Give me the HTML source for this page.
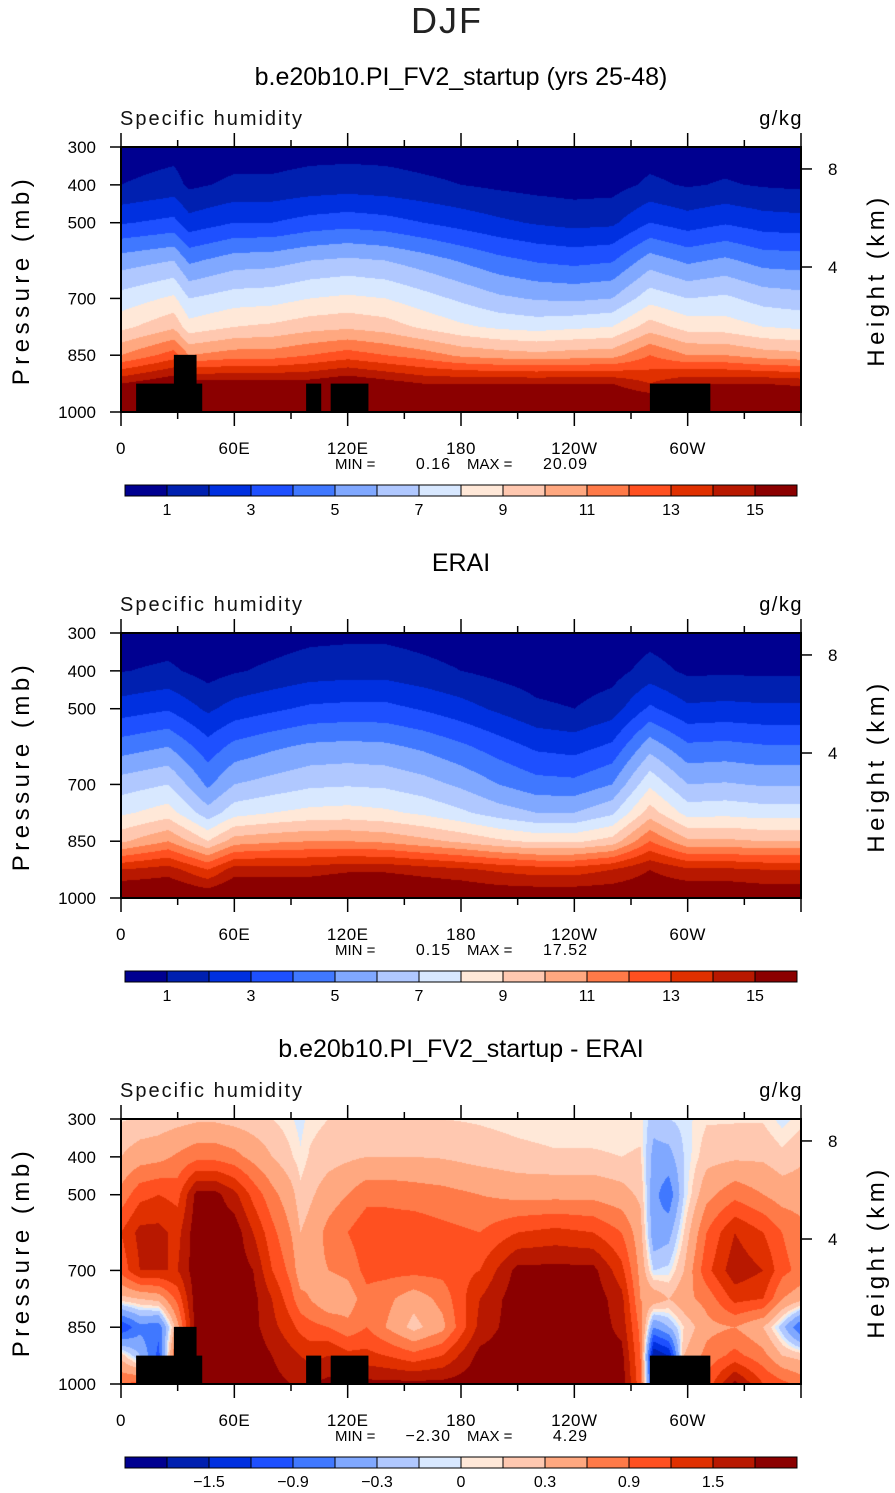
<!DOCTYPE html>
<html><head><meta charset="utf-8">
<style>
body{margin:0;background:#fff;width:895px;height:1493px;position:relative;overflow:hidden;font-family:"Liberation Sans",sans-serif}
canvas{position:absolute}
svg{position:absolute;left:0;top:0}
</style></head>
<body>
<canvas id="c0" width="680" height="265" style="left:121px;top:147px"></canvas>
<canvas id="c1" width="680" height="265" style="left:121px;top:633px"></canvas>
<canvas id="c2" width="680" height="265" style="left:121px;top:1119px"></canvas>
<svg id="ov" width="895" height="1493"></svg>
<script>
// ---- data ----
const COLORS=["#000090","#0020b0","#0030e0","#1e50ff","#4078ff","#80a8ff","#b0c8ff","#d8e8ff","#ffe8d8","#ffc8b0","#ffa880","#ff7a48","#ff5020","#e03000","#b81800","#8b0000"];
const LEVELS_Q=[1,2,3,4,5,6,7,8,9,10,11,12,13,14,15];
const LEVELS_D=[-1.8,-1.5,-1.2,-0.9,-0.6,-0.3,-0.1,0,0.1,0.3,0.6,0.9,1.2,1.5,1.8];
const CB_LABELS_Q=["1","3","5","7","9","11","13","15"];
const CB_LABEL_IDX_Q=[1,3,5,7,9,11,13,15];
const CB_LABELS_D=["\u22121.5","\u22120.9","\u22120.3","0","0.3","0.9","1.5"];
const CB_LABEL_IDX_D=[2,4,6,8,10,12,14];
const PRESS=[300,400,500,600,700,775,850,925,1000];
const P_TICKS=[300,400,500,700,850,1000];
const LON_TICKS=[0,60,120,180,240,300];
const LON_LABELS=["0","60E","120E","180","120W","60W"];
const H_TICK_P=[358,617]; // pressure of 8 km and 4 km
const H_TICK_LABELS=["8","4"];
const LONS1=[0,28,36,60,80,100,120,140,160,180,200,220,240,260,280,300,320,340,360];
const GRID1=[
[0.4,1.0,2.9,5.5,7.4,8.7,11,15,17],
[0.6,1.4,3.3,6.0,8.2,9.8,12.5,16,17.5],
[0.35,0.8,2.4,4.8,7.0,8.4,11,15.5,17],
[0.5,1.2,3.0,5.5,7.5,9.0,11.5,15.5,17],
[0.5,1.2,3.0,5.6,7.6,9.2,11.5,15.5,17],
[0.6,1.4,3.4,6.0,8.0,9.6,12,15.5,17],
[0.6,1.5,3.6,6.2,8.2,9.8,12.5,16,17.5],
[0.6,1.4,3.4,6.0,8.0,9.5,12,15.5,17],
[0.5,1.2,3.0,5.5,7.4,8.8,11.5,15,17],
[0.45,1.0,2.6,4.9,6.8,8.2,10.8,15,17],
[0.35,0.8,2.2,4.3,6.2,7.8,10.5,15,17],
[0.3,0.65,1.9,3.9,5.9,7.6,10.3,15,17],
[0.2,0.55,1.7,3.7,5.8,7.8,10.5,15,17],
[0.2,0.6,1.8,3.9,6.0,8.0,10.6,15,17],
[0.5,1.2,3.0,5.5,7.6,9.5,12,14,17],
[0.35,0.9,2.5,4.8,7.0,8.6,11,15,17],
[0.5,1.1,2.9,5.2,7.2,8.5,11,15,17],
[0.3,0.9,2.5,4.6,6.6,8.0,10.5,15,17],
[0.25,0.8,2.4,4.5,6.4,7.8,10.3,14.8,17]];
const LONS2=[0,25,46,60,80,100,120,140,160,180,200,220,240,260,280,300,320,340,360];
const GRID2=[
[0.35,0.95,2.5,4.5,6.5,7.8,9.8,14,16.5],
[0.45,1.2,2.9,5.0,7.0,8.5,11,14.5,16.5],
[0.2,0.6,1.8,3.4,4.8,6.4,9,13,16],
[0.35,0.9,2.4,4.3,6.0,7.6,10.5,14.5,16.5],
[0.5,1.2,2.8,4.8,6.4,8.0,10.8,14.5,16.5],
[0.7,1.5,3.2,5.2,6.8,8.3,11,14.5,16.5],
[0.75,1.6,3.3,5.3,6.9,8.4,11,14.8,16.8],
[0.75,1.6,3.3,5.2,6.8,8.2,10.8,14.8,16.8],
[0.6,1.3,2.9,4.8,6.4,7.8,10.3,14.5,16.5],
[0.45,1.0,2.4,4.2,5.8,7.2,9.8,14.2,16.3],
[0.3,0.7,1.8,3.5,5.0,6.5,9.2,13.8,16],
[0.2,0.5,1.2,2.8,4.4,6.0,8.8,13.5,16],
[0.15,0.4,1.0,2.6,4.3,6.0,8.8,13.5,16],
[0.25,0.6,1.5,3.2,5.0,6.8,9.4,14,16],
[0.6,1.4,3.2,5.6,7.8,9.5,12,15,16],
[0.35,0.8,2.2,4.2,6.0,7.6,10.2,14.2,16.2],
[0.35,0.85,2.3,4.3,6.1,7.7,10.2,14.2,16.2],
[0.3,0.8,2.2,4.1,5.9,7.5,10,14,16],
[0.3,0.8,2.2,4.1,5.9,7.5,10,14,16]];
const LONS3=[0,10,20,30,40,50,60,70,80,90,95,100,110,120,130,140,155,170,190,210,230,250,265,275,282,290,298,310,325,340,350,360];
const GRID3=[
[0.08,0.3,0.7,1.2,1.0,0.2,-1.2,0.2,0.9],
[0.12,0.45,1.1,1.6,1.5,0.3,-0.7,-0.3,1.0],
[0.15,0.5,1.2,1.6,1.5,0.4,-0.8,-1.0,1.0],
[0.2,0.65,1.1,1.4,1.5,1.0,0.5,1.2,1.8],
[0.25,0.8,1.9,2.0,2.0,2.0,2.0,2.0,2.0],
[0.25,0.8,1.9,2.0,2.0,2.0,2.0,2.0,2.0],
[0.2,0.7,1.6,2.0,2.0,2.0,2.0,2.0,2.0],
[0.15,0.5,1.1,1.5,1.8,1.9,1.9,2.0,2.0],
[0.1,0.3,0.7,1.0,1.2,1.5,1.6,1.8,1.9],
[0.02,0.12,0.4,0.6,0.8,1.0,1.3,1.6,1.8],
[-0.05,0.02,0.15,0.3,0.4,0.7,1.1,1.5,1.8],
[0.05,0.12,0.25,0.4,0.5,0.6,1.0,1.4,1.8],
[0.1,0.2,0.45,0.7,0.6,0.3,0.9,1.5,1.9],
[0.12,0.25,0.6,0.9,0.7,0.4,0.7,1.3,1.9],
[0.12,0.3,0.8,1.1,1.0,0.8,0.9,1.3,1.9],
[0.12,0.3,0.8,1.1,1.0,0.7,0.6,1.2,1.9],
[0.12,0.3,0.75,1.1,1.0,0.4,0.2,1.0,1.9],
[0.1,0.28,0.7,1.0,1.0,0.7,0.5,1.2,1.9],
[0.08,0.2,0.6,0.9,1.2,1.5,1.6,1.9,2.0],
[0.05,0.15,0.5,1.2,1.9,2.0,2.0,2.0,2.0],
[0.03,0.12,0.5,1.3,1.9,2.0,2.0,2.0,2.0],
[0.03,0.12,0.5,1.2,1.9,2.0,2.0,2.0,2.0],
[0.03,0.1,0.4,0.9,1.3,1.6,1.7,1.9,2.0],
[0.05,0.12,0.25,0.4,0.5,0.6,0.8,0.9,1.0],
[-0.2,-0.4,-0.5,-0.5,-0.1,0.5,-0.6,-1.8,-1.5],
[-0.1,-0.4,-0.8,-0.4,-0.05,0.3,-0.3,-1.5,-1.0],
[-0.05,-0.1,-0.1,0.1,0.3,0.5,0.1,0.3,0.6],
[0.08,0.2,0.5,0.9,1.1,0.7,0.5,0.7,1.0],
[0.08,0.25,0.8,1.5,1.7,1.3,0.6,1.0,1.9],
[0.08,0.25,0.6,1.2,1.5,1.2,0.3,0.7,1.2],
[-0.05,0.15,0.45,0.9,1.0,0.6,-0.2,0.3,1.0],
[0.05,0.25,0.45,0.7,0.8,0.4,-0.9,0.2,0.8]];
// topography masks: [lonStart, lonEnd, pressureTop]
const TOPO_LON0=[8,28,98,111,280];
const TOPO_LON1=[43,40,106,131,312];
const TOPO_PTOP=[925,849,925,925,925];
const PANEL_TITLES=["b.e20b10.PI_FV2_startup (yrs 25-48)","ERAI","b.e20b10.PI_FV2_startup - ERAI"];
const MINS=["0.16","0.15","\u22122.30"];
const MAXS=["20.09","17.52","4.29"];

// ---- layout ----
const PX0=121,PW=680,PH=265,PANEL_Y=[147,633,1119];
const xOf=lon=>PX0+lon/360*PW;
const yOf=(top,p)=>top+(p-300)/700*PH;
function hexRGB(h){return [parseInt(h.slice(1,3),16),parseInt(h.slice(3,5),16),parseInt(h.slice(5,7),16)];}
const RGB=COLORS.map(hexRGB);
function findIdx(arr,v){let i=0;while(i<arr.length-2&&v>arr[i+1])i++;return i;}
function drawField(id,lons,grid,levels){
  const c=document.getElementById(id),ctx=c.getContext('2d');
  const img=ctx.createImageData(PW,PH);
  for(let px=0;px<PW;px++){
    const lon=(px+0.5)/PW*360,i=findIdx(lons,lon);
    const tx=Math.min(1,Math.max(0,(lon-lons[i])/(lons[i+1]-lons[i])));
    for(let py=0;py<PH;py++){
      const p=300+(py+0.5)/PH*700,j=findIdx(PRESS,p);
      const ty=Math.min(1,Math.max(0,(p-PRESS[j])/(PRESS[j+1]-PRESS[j])));
      const a=grid[i][j]*(1-tx)+grid[i+1][j]*tx, b=grid[i][j+1]*(1-tx)+grid[i+1][j+1]*tx;
      const v=a*(1-ty)+b*ty;
      let k=0;while(k<levels.length&&v>=levels[k])k++;
      const o=(py*PW+px)*4,col=RGB[k];
      img.data[o]=col[0];img.data[o+1]=col[1];img.data[o+2]=col[2];img.data[o+3]=255;
    }
  }
  ctx.putImageData(img,0,0);
}
drawField('c0',LONS1,GRID1,LEVELS_Q);
drawField('c1',LONS2,GRID2,LEVELS_Q);
drawField('c2',LONS3,GRID3,LEVELS_D);

const svg=document.getElementById('ov'),NS='http://www.w3.org/2000/svg';
function mk(tag,attrs,parent){const e=document.createElementNS(NS,tag);for(const k in attrs)e.setAttribute(k,attrs[k]);(parent||svg).appendChild(e);return e;}
function txt(s,attrs,parent){const e=mk('text',attrs,parent);e.textContent=s;return e;}

const t=txt("DJF",{x:447,y:33,'text-anchor':'middle','font-size':36,'font-weight':'300',fill:'#222','letter-spacing':'2'});



for(let k=0;k<3;k++){
  const top=PANEL_Y[k],off=k*486;
  const g=mk('g',{});
  
  
  const tt=txt(PANEL_TITLES[k],{x:461,y:85+off,'text-anchor':'middle','font-size':25},g);
  
  
  const ln=txt("Specific humidity",{x:120,y:125+off,'font-size':20,fill:'#111','letter-spacing':'2'},g);
  
  
  const un=txt("g/kg",{x:803,y:125+off,'text-anchor':'end','font-size':20,'letter-spacing':'1.5'},g);
  
  
  const yl=txt("Pressure (mb)",{x:0,y:0,'text-anchor':'middle','font-size':24,'letter-spacing':'4.5',transform:`translate(29,${280+off}) rotate(-90)`},g);
  
  
  const hl=txt("Height (km)",{x:0,y:0,'text-anchor':'middle','font-size':24,'letter-spacing':'4.5',transform:`translate(884,${280+off}) rotate(-90)`},g);
  
  
  if(k!==1){
    for(let m=0;m<TOPO_LON0.length;m++){
      const r=mk('rect',{x:xOf(TOPO_LON0[m]),y:yOf(top,TOPO_PTOP[m]),width:xOf(TOPO_LON1[m])-xOf(TOPO_LON0[m]),height:yOf(top,1000)-yOf(top,TOPO_PTOP[m]),fill:'#000'},g);
      
      
    }
  }
  const fr=mk('rect',{x:PX0,y:top,width:PW,height:PH,fill:'none',stroke:'#000','stroke-width':2},g);
  
  
  for(let lon=0;lon<=360;lon+=30){
    const x=xOf(lon);
    mk('line',{x1:x,x2:x,y1:top+PH,y2:top+PH+(lon%60===0?14:7),stroke:'#000','stroke-width':1.5},g);
    mk('line',{x1:x,x2:x,y1:top,y2:top-(lon%60===0?14:7),stroke:'#000','stroke-width':1.5},g);
  }
  LON_TICKS.forEach((lon,i)=>{
    const l=txt(LON_LABELS[i],{x:xOf(lon),y:top+PH+42,'text-anchor':'middle','font-size':17,'letter-spacing':'0.5'},g);
    
    
  });
  P_TICKS.forEach(p=>{
    const y=yOf(top,p);
    mk('line',{x1:PX0-11,x2:PX0,y1:y,y2:y,stroke:'#000','stroke-width':1.5},g);
    const l=txt(String(p),{x:96,y:y+6,'text-anchor':'end','font-size':17},g);
    
    
  });
  H_TICK_P.forEach((p,i)=>{
    const y=yOf(top,p);
    mk('line',{x1:PX0+PW,x2:PX0+PW+11,y1:y,y2:y,stroke:'#000','stroke-width':1.5},g);
    const l=txt(H_TICK_LABELS[i],{x:828,y:y+6,'font-size':17},g);
    
    
  });
  const mm=mk('g',{},g);
  
  
  const my=top+PH+57;
  txt("MIN  =",{x:335,y:my,'font-size':15},mm);
  txt(MINS[k],{x:451,y:my,'font-size':16,'text-anchor':'end','letter-spacing':'1'},mm);
  txt("MAX  =",{x:467,y:my,'font-size':15},mm);
  txt(MAXS[k],{x:588,y:my,'font-size':16,'text-anchor':'end','letter-spacing':'1'},mm);
  const cb=mk('g',{},g);
  
  
  const cy=485+off,bw=42;
  COLORS.forEach((c,i)=>{
    const r=mk('rect',{x:125+i*bw,y:cy,width:bw,height:11,fill:c,stroke:'#000','stroke-width':1},cb);
    
    
  });
  const labs=k===2?CB_LABELS_D:CB_LABELS_Q,idx=k===2?CB_LABEL_IDX_D:CB_LABEL_IDX_Q;
  labs.forEach((s,i)=>{
    const l=txt(s,{x:125+idx[i]*bw,y:cy+30,'text-anchor':'middle','font-size':16},cb);
    
    
  });
}
</script>
</body></html>
